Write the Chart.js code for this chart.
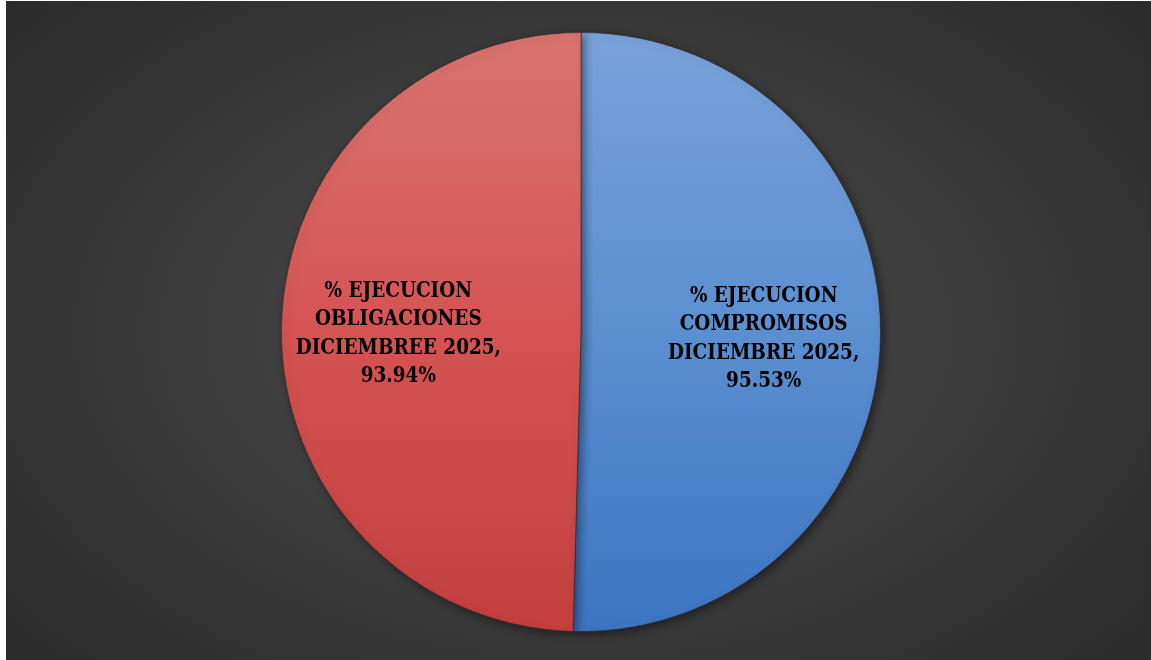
<!DOCTYPE html>
<html>
<head>
<meta charset="utf-8">
<script src="https://cdn.jsdelivr.net/npm/chart.js@4.4.1/dist/chart.umd.min.js"></script>
<style>
    html, body { margin: 0; padding: 0; background: #fff; width: 1151px; height: 660px; overflow: hidden; }
    #wrap {
        position: absolute; left: 6px; top: 1px; width: 1145px; height: 659px;
        background: radial-gradient(ellipse 75% 85% at 50% 50%, #4b4b4b 0%, #3c3c3c 45%, #262626 100%);
    }
</style>
</head>
<body>
<div id="wrap"><canvas id="pieChart"></canvas></div>
<script>
// ─── Data ──────────────────────────
const sliceLabels = [
    ['% EJECUCION', 'COMPROMISOS', 'DICIEMBRE 2025,'],
    ['% EJECUCION', 'OBLIGACIONES', 'DICIEMBREE 2025,']
];
const sliceValues = [95.53, 93.94];
const sliceColors = [
    ['#7aa2da', '#5b8fd0', '#3d74c1'],
    ['#d9746f', '#d45453', '#c23f3d']
];

function sliceGradient(ctx) {
    const chart = ctx.chart;
    const area = chart.chartArea;
    const c = sliceColors[ctx.dataIndex];
    if (!area) return c[1];
    const g = chart.ctx.createLinearGradient(0, area.top, 0, area.bottom);
    g.addColorStop(0, c[0]);
    g.addColorStop(0.5, c[1]);
    g.addColorStop(1, c[2]);
    return g;
}

// labels inside the slices
const insideLabels = {
    id: 'insideLabels',
    afterDatasetsDraw(chart) {
        const ctx = chart.ctx;
        const meta = chart.getDatasetMeta(0);
        ctx.save();
        ctx.fillStyle = '#000';
        ctx.textAlign = 'center';
        ctx.textBaseline = 'middle';
        ctx.font = 'bold 22.5px "DejaVu Serif Condensed", "DejaVu Serif"';
        meta.data.forEach((arc, i) => {
            const p = arc.getProps(['x', 'y', 'startAngle', 'endAngle', 'outerRadius']);
            const mid = (p.startAngle + p.endAngle) / 2;
            const r = p.outerRadius * 0.61;
            const cx = p.x + Math.cos(mid) * r;
            const cy = p.y + Math.sin(mid) * r + 4;
            const lines = sliceLabels[i].concat([sliceValues[i].toFixed(2) + '%']);
            const lh = 28.5;
            lines.forEach((t, j) => {
                const w = ctx.measureText(t).width;
                ctx.fillText(t, cx, cy + (j - (lines.length - 1) / 2) * lh, w * 0.91);
            });
        });
        ctx.restore();
    }
};

const pieShadow = {
    id: 'pieShadow',
    beforeDatasetsDraw(chart) {
        const ctx = chart.ctx;
        ctx.save();
        ctx.shadowColor = 'rgba(0,0,0,0.45)';
        ctx.shadowBlur = 10;
        ctx.shadowOffsetX = 3;
        ctx.shadowOffsetY = 3;
    },
    afterDatasetsDraw(chart) {
        chart.ctx.restore();
    }
};

new Chart(document.getElementById('pieChart'), {
    type: 'pie',
    data: {
        labels: sliceLabels.map(l => l.join(' ')),
        datasets: [{
            data: sliceValues,
            backgroundColor: sliceGradient,
            borderColor: 'rgba(40,40,40,0.55)',
            borderWidth: 1
        }]
    },
    options: {
        responsive: true,
        maintainAspectRatio: false,
        animation: false,
        layout: { padding: { top: 31, bottom: 28, left: 5, right: 0 } },
        plugins: {
            legend: { display: false },
            tooltip: { enabled: false }
        }
    },
    plugins: [pieShadow, insideLabels]
});
</script>
</body>
</html>
